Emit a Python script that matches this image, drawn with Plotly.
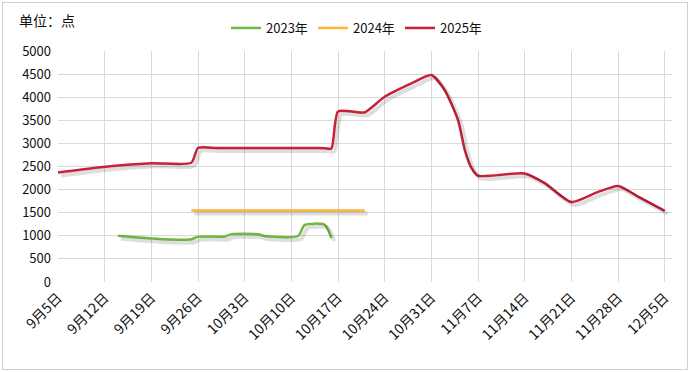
import plotly.graph_objects as go

# ---- data ----
dates_2023 = ['2025-09-14', '2025-09-21', '2025-09-25', '2025-09-26', '2025-09-30', '2025-10-01',
              '2025-10-05', '2025-10-06', '2025-10-11', '2025-10-12', '2025-10-15', '2025-10-16']
values_2023 = [1000, 925, 925, 980, 985, 1035, 1035, 995, 995, 1235, 1240, 950]

dates_2024 = ['2025-09-25', '2025-10-21']
values_2024 = [1550, 1550]

dates_2025 = ['2025-09-05', '2025-09-11', '2025-09-19', '2025-09-25', '2025-09-26', '2025-09-29',
              '2025-10-09', '2025-10-13', '2025-10-15', '2025-10-16', '2025-10-17', '2025-10-20',
              '2025-10-21', '2025-10-24', '2025-10-28', '2025-10-31', '2025-11-02', '2025-11-04',
              '2025-11-05', '2025-11-06', '2025-11-07', '2025-11-14', '2025-11-17', '2025-11-21',
              '2025-11-25', '2025-11-28', '2025-12-01', '2025-12-05']
values_2025 = [2370, 2480, 2570, 2580, 2900, 2900, 2900, 2900, 2895, 2890, 3690, 3675,
               3670, 4010, 4300, 4480, 4150, 3500, 2860, 2470, 2300, 2350, 2140, 1730,
               1950, 2080, 1850, 1540]

tick_dates = ['2025-09-05', '2025-09-12', '2025-09-19', '2025-09-26', '2025-10-03', '2025-10-10',
              '2025-10-17', '2025-10-24', '2025-10-31', '2025-11-07', '2025-11-14', '2025-11-21',
              '2025-11-28', '2025-12-05']
tick_labels = ['9月5日', '9月12日', '9月19日', '9月26日', '10月3日', '10月10日', '10月17日',
               '10月24日', '10月31日', '11月7日', '11月14日', '11月21日', '11月28日', '12月5日']

series = [
    ('2023年', dates_2023, values_2023, '#72B83E'),
    ('2024年', dates_2024, values_2024, '#FFB531'),
    ('2025年', dates_2025, values_2025, '#C8213A'),
]

FONT = 'Noto Sans CJK SC'
W, H = 690, 372
S = 3  # shadow offset in px
L, R, T, B = 58, 18 - S, 51, 90 - S
PW, PH = W - L - R, H - T - B
xr = ['2025-09-05', '2025-12-06 02:00']

fig = go.Figure()
# soft drop shadows, drawn on axes offset by a few pixels
for name, d, v, c in series:
    fig.add_trace(go.Scatter(x=d, y=v, mode='lines', xaxis='x2', yaxis='y2',
                             line=dict(color='rgba(0,0,0,0.13)', width=4, shape='spline', smoothing=0.6),
                             showlegend=False, hoverinfo='skip'))
for name, d, v, c in series:
    fig.add_trace(go.Scatter(x=d, y=v, mode='lines', name=name,
                             line=dict(color=c, width=2.5, shape='spline', smoothing=0.6)))

sx = S / PW
sy = S / PH
fig.update_layout(
    width=W, height=H,
    margin=dict(l=L, r=R, t=T, b=B, autoexpand=False),
    paper_bgcolor='white', plot_bgcolor='rgba(0,0,0,0)',
    font=dict(family=FONT, size=13, color='#111'),
    xaxis=dict(range=xr, domain=[0, 1 - sx], tickvals=tick_dates, ticktext=tick_labels,
               tickangle=-45, showgrid=True, gridcolor='#d9d9d9', gridwidth=1, automargin=False,
               zeroline=False, showline=False, ticks='', tickfont=dict(size=14),
               ticklabelstandoff=4),
    yaxis=dict(range=[0, 5000], domain=[sy, 1], dtick=500, showgrid=True, gridcolor='#d9d9d9',
               zeroline=False, showline=False, ticks='', tickfont=dict(size=13), automargin=False,
               ticklabelstandoff=6),
    xaxis2=dict(range=xr, domain=[sx, 1], visible=False, anchor='y2'),
    yaxis2=dict(range=[0, 5000], domain=[0, 1 - sy], visible=False, anchor='x2'),
    legend=dict(orientation='h', x=(226 - L) / PW, xanchor='left', y=1 + (T - 28) / PH,
                yanchor='middle', font=dict(size=13), entrywidth=42, entrywidthmode='pixels',
                bgcolor='rgba(0,0,0,0)', traceorder='normal'),
    showlegend=True,
)
fig.add_annotation(text='单位：点', xref='paper', yref='paper', x=(17 - L) / PW, y=1 + (T - 20) / PH,
                   xanchor='left', yanchor='middle', showarrow=False, font=dict(size=14, color='#111'))
fig.add_shape(type='rect', xref='paper', yref='paper',
              x0=(2.5 - L) / PW, x1=(687.5 - L) / PW, y0=(H - B - 369.5) / PH, y1=(H - B - 2.5) / PH,
              line=dict(color='#cfcfcf', width=1), fillcolor='rgba(0,0,0,0)', layer='below')

fig.write_html('out.html', config={'displayModeBar': False},
               post_script="document.body.style.margin='0px';document.body.style.overflow='hidden';")
